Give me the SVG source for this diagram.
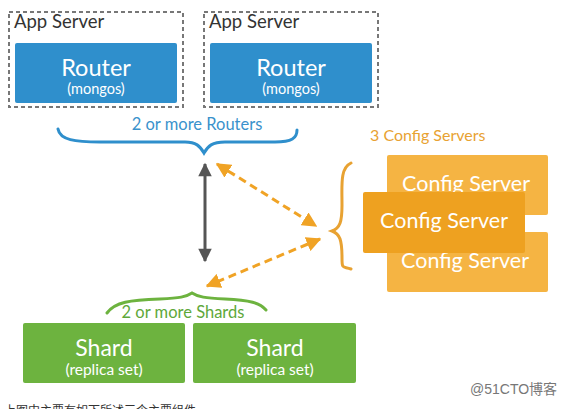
<svg xmlns="http://www.w3.org/2000/svg" width="578" height="409" viewBox="0 0 578 409">
<style>
.app{fill:none;stroke:#777;stroke-width:2;stroke-dasharray:4 3}
.apptxt{font-family:Lato,"Liberation Sans",sans-serif;font-size:18.5px;fill:#333}
.router{fill:#2f8fcc}
.big{font-family:Lato,"Liberation Sans",sans-serif;fill:#fff;text-anchor:middle}
.cfgback{fill:#f5b443}
.cfgfront{fill:#eea120}
.shard{fill:#6db33f}
.lbl{font-family:Lato,"Liberation Sans",sans-serif;font-size:16.5px;text-anchor:middle}
.dash{fill:none;stroke:#f0a325;stroke-width:3;stroke-dasharray:8 5}
</style>
<defs>
<marker id="oa" viewBox="0 0 10 10" refX="9" refY="5" markerWidth="5" markerHeight="5" orient="auto-start-reverse"><path d="M0,0 L10,5 L0,10 z" fill="#f0a325"/></marker>
<marker id="ga" viewBox="0 0 10 10" refX="9" refY="5" markerWidth="5.5" markerHeight="4.5" orient="auto-start-reverse"><path d="M0,0 L10,5 L0,10 z" fill="#555"/></marker>
</defs>
<rect width="578" height="409" fill="#fff"/>
<g id="app1">
<rect class="app" x="9" y="12" width="174" height="95"/>
<text class="apptxt" x="14" y="28">App Server</text>
<rect class="router" x="15" y="43" width="162" height="60" rx="2"/>
<text class="big" x="96" y="76" font-size="23.5">Router</text>
<text class="big" x="96" y="94" font-size="14.5">(mongos)</text>
</g>
<g id="app2">
<rect class="app" x="204" y="12" width="174" height="95"/>
<text class="apptxt" x="209" y="28">App Server</text>
<rect class="router" x="210" y="43" width="162" height="60" rx="2"/>
<text class="big" x="291" y="76" font-size="23.5">Router</text>
<text class="big" x="291" y="94" font-size="14.5">(mongos)</text>
</g>
<g id="routersBrace">
<path d="M58,129 C60,140 75,142 100,142 L185,142 C196,142 200,146 204,153 C208,146 212,142 225,142 L275,142 C292,142 297,138 297,130" fill="none" stroke="#2f8fcc" stroke-width="3" stroke-linecap="round"/>
<text class="lbl" x="197" y="130" fill="#3a92cc">2 or more Routers</text>
</g>
<g id="configs">
<text x="370" y="141" font-family="Lato,'Liberation Sans',sans-serif" font-size="16" fill="#e8a232">3 Config Servers</text>
<path d="M351,163 C340,168 342,185 342,205 C342,222 340,228 332,231 C340,234 342,240 342,258 C342,270 343,266 351,269" fill="none" stroke="#e8a232" stroke-width="3" stroke-linecap="round"/>
<g id="cfg1">
<rect class="cfgback" x="387" y="155" width="161" height="60" rx="2"/>
<text class="big" x="466" y="191" font-size="21.5">Config Server</text>
</g>
<g id="cfg3">
<rect class="cfgback" x="387" y="232" width="161" height="60" rx="2"/>
<text class="big" x="465" y="268" font-size="21.5">Config Server</text>
</g>
<g id="cfg2">
<rect class="cfgfront" x="363" y="192" width="162" height="61" rx="2"/>
<text class="big" x="444" y="228" font-size="21.5">Config Server</text>
</g>
</g>
<g id="connectors">
<line x1="205" y1="164" x2="205" y2="261" stroke="#555" stroke-width="3" marker-start="url(#ga)" marker-end="url(#ga)"/>
<line class="dash" x1="217" y1="164" x2="316" y2="226" marker-start="url(#oa)" marker-end="url(#oa)"/>
<line class="dash" x1="320" y1="239" x2="207" y2="286" marker-start="url(#oa)" marker-end="url(#oa)"/>
</g>
<g id="shardsBrace">
<path d="M107,313 C115,302 130,300 160,299 C180,298 186,297 192,293 C198,297 205,298 225,299 C250,300 260,303 266,310" fill="none" stroke="#6db33f" stroke-width="3" stroke-linecap="round"/>
<text class="lbl" x="183" y="318" fill="#5ea83a">2 or more Shards</text>
</g>
<g id="shard1">
<rect class="shard" x="23" y="323" width="162" height="60" rx="2"/>
<text class="big" x="104" y="356" font-size="23">Shard</text>
<text class="big" x="104" y="375" font-size="15.5">(replica set)</text>
</g>
<g id="shard2">
<rect class="shard" x="193" y="323" width="163" height="60" rx="2"/>
<text class="big" x="275" y="356" font-size="23">Shard</text>
<text class="big" x="275" y="375" font-size="15.5">(replica set)</text>
</g>
<text x="470" y="394" font-family="'Liberation Sans','Noto Sans CJK SC',sans-serif" font-size="14" fill="#777">@51CTO博客</text>
<text x="4" y="415" font-family="'Noto Sans CJK SC',sans-serif" font-size="12" fill="#333">上图中主要有如下所述三个主要组件</text>
</svg>
